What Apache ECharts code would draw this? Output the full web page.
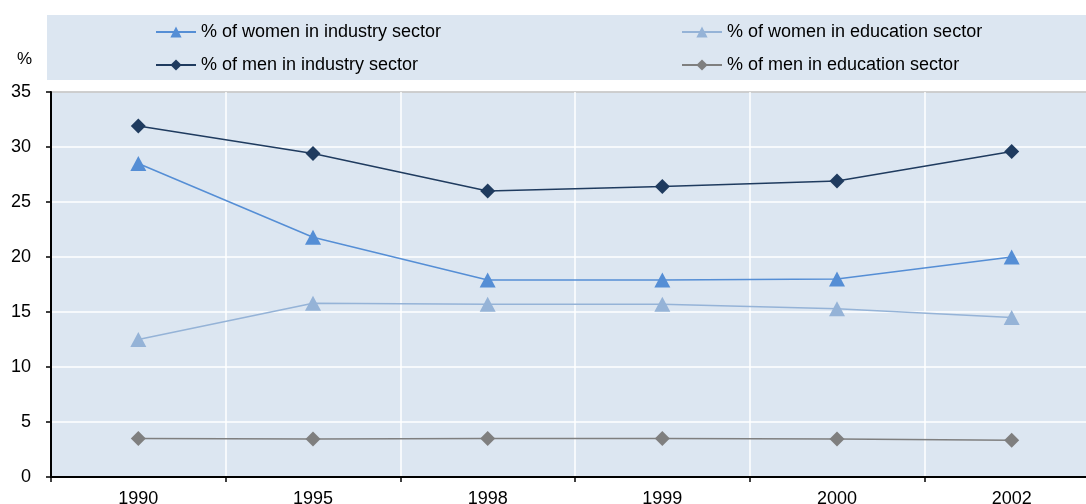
<!DOCTYPE html>
<html>
<head>
<meta charset="utf-8">
<script src="https://cdn.jsdelivr.net/npm/echarts@6/dist/echarts.min.js"></script>
<style>
  html, body { margin: 0; padding: 0; background: #fff; }
  #chart { width: 1086px; height: 504px; }
</style>
</head>
<body>
<div id="chart"></div>
<script>
const years = ['1990', '1995', '1998', '1999', '2000', '2002']
const womenIndustry = [28.5, 21.8, 17.9, 17.9, 18.0, 20.0]
const womenEducation = [12.5, 15.8, 15.7, 15.7, 15.3, 14.5]
const menIndustry = [31.9, 29.4, 26.0, 26.4, 26.9, 29.6]
const menEducation = [3.5, 3.45, 3.5, 3.5, 3.45, 3.35]
const yTicks = [0, 5, 10, 15, 20, 25, 30, 35]

const names = [
  '% of women in industry sector',
  '% of women in education sector',
  '% of men in industry sector',
  '% of men in education sector',
]
const font = 'Liberation Sans'
const chart = echarts.init(document.getElementById('chart'))

function line(name, data, color, symbol, size) {
  return {
    name: name,
    type: 'line',
    data: data,
    symbol: symbol,
    symbolSize: size,
    lineStyle: { color: color, width: 1.5 },
    itemStyle: { color: color },
    emphasis: { disabled: true },
  }
}

const legendBase = {
  orient: 'vertical',
  itemWidth: 40,
  itemHeight: 14,
  itemGap: 15,
  textStyle: { fontFamily: font, fontSize: 18, color: '#000' },
}

chart.setOption({
  animation: false,
  textStyle: { fontFamily: font },
  title: {
    text: '%',
    left: 12,
    top: 46,
    textStyle: { fontFamily: font, fontSize: 17, fontWeight: 'normal', color: '#000' },
  },
  graphic: [{
    type: 'rect',
    left: 47,
    top: 15,
    shape: { width: 1039, height: 65 },
    style: { fill: '#dce6f1' },
    z: -1,
  }],
  legend: [
    Object.assign({}, legendBase, { left: 150, top: 18, data: [names[0], names[2]] }),
    Object.assign({}, legendBase, { left: 676, top: 18, data: [names[1], names[3]] }),
  ],
  grid: {
    left: 51,
    top: 92,
    width: 1048,
    height: 385,
    outerBoundsMode: 'none',
    show: true,
    backgroundColor: '#dce6f1',
    borderColor: '#000',
    borderWidth: 1.5,
  },
  xAxis: {
    type: 'category',
    data: years,
    boundaryGap: true,
    axisLine: { lineStyle: { color: '#000', width: 2 } },
    axisTick: { show: true, length: 5, lineStyle: { color: '#000', width: 1.5 } },
    axisLabel: { color: '#000', fontSize: 18, margin: 13 },
    splitLine: { show: true, interval: 0, lineStyle: { color: '#fff', width: 1.5 } },
  },
  yAxis: {
    type: 'value',
    min: yTicks[0],
    max: yTicks[yTicks.length - 1],
    interval: 5,
    axisLine: { show: true, lineStyle: { color: '#000', width: 2 } },
    axisTick: { show: true, length: 5, lineStyle: { color: '#000', width: 1.5 } },
    axisLabel: { color: '#000', fontSize: 18, margin: 20 },
    splitLine: { show: true, lineStyle: { color: '#fff', width: 1.5 } },
  },
  series: [
    line(names[0], womenIndustry, '#558ed5', 'triangle', [16, 15]),
    line(names[1], womenEducation, '#95b3d7', 'triangle', [16, 15]),
    line(names[2], menIndustry, '#1f3b5f', 'diamond', [15, 15]),
    line(names[3], menEducation, '#7f7f7f', 'diamond', [15, 15]),
  ],
})
</script>
</body>
</html>
